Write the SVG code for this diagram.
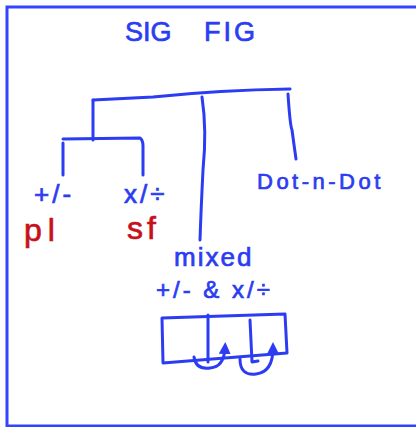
<svg xmlns="http://www.w3.org/2000/svg" width="416" height="427" viewBox="0 0 416 427">
<style>
.ink{fill:none;stroke:#2b3cf2;stroke-width:3;stroke-linecap:round;stroke-linejoin:round}
.t{font-family:"Liberation Sans",Arial,sans-serif;fill:#2b3cf2;stroke:#2b3cf2;stroke-width:0.7}
.r{font-family:"Liberation Sans",Arial,sans-serif;fill:#c8101c;stroke:#c8101c;stroke-width:0.7}
</style>
<defs>
<marker id="ah" viewBox="0 0 10 10" refX="5" refY="5" markerWidth="4" markerHeight="4" orient="auto">
<path d="M0 0 L10 5 L0 10 z" fill="#2b3cf2"/>
</marker>
</defs>
<rect width="416" height="427" fill="#fff"/>
<path d="M420 7 H7 V426 H420" fill="none" stroke="#3443ff" stroke-width="3"/>
<g id="title"><text class="t" x="125" y="41" font-size="27">SIG</text><text class="t" x="204" y="41" font-size="27" letter-spacing="3">FIG</text></g>
<g id="connectors">
<path class="ink" d="M93 100 L153 97 Q220 90 290 89"/>
<path class="ink" d="M93 100 V140"/>
<path class="ink" d="M63 139 L140 138 Q143 140 143 146 V175"/>
<path class="ink" d="M63 143 V175"/>
<path class="ink" d="M202 97 Q207 130 203 170 Q201 210 200 240"/>
<path class="ink" d="M288 94 Q290 125 292 130 Q294 145 296 159"/>
</g>
<g id="addsub"><text class="t" x="34" y="203" font-size="26" letter-spacing="3">+/-</text><text class="r" x="24" y="241" font-size="32" letter-spacing="6">pl</text></g>
<g id="muldiv"><text class="t" x="124" y="203" font-size="26" letter-spacing="3">x/÷</text><text class="r" x="127" y="239" font-size="32" letter-spacing="4">sf</text></g>
<g id="dotndot"><text class="t" x="257" y="189" font-size="22" letter-spacing="3.5">Dot-n-Dot</text></g>
<g id="mixed"><text class="t" x="174" y="266" font-size="26" letter-spacing="2">mixed</text><text class="t" x="156" y="298" font-size="24" letter-spacing="3">+/-  &amp;  x/÷</text></g>
<g id="box">
<path class="ink" d="M162 318 L285 314 L287 353 L163 363 Z"/>
<path class="ink" d="M208 315 V362"/>
<path class="ink" d="M250 320 L252 362 L258 361"/>
<path class="ink" d="M194 357 Q196 370 210 368 Q224 367 225 348" marker-end="url(#ah)"/>
<path class="ink" d="M240 359 Q240 376 256 374 Q273 372 273 348" marker-end="url(#ah)"/>
</g>
</svg>
